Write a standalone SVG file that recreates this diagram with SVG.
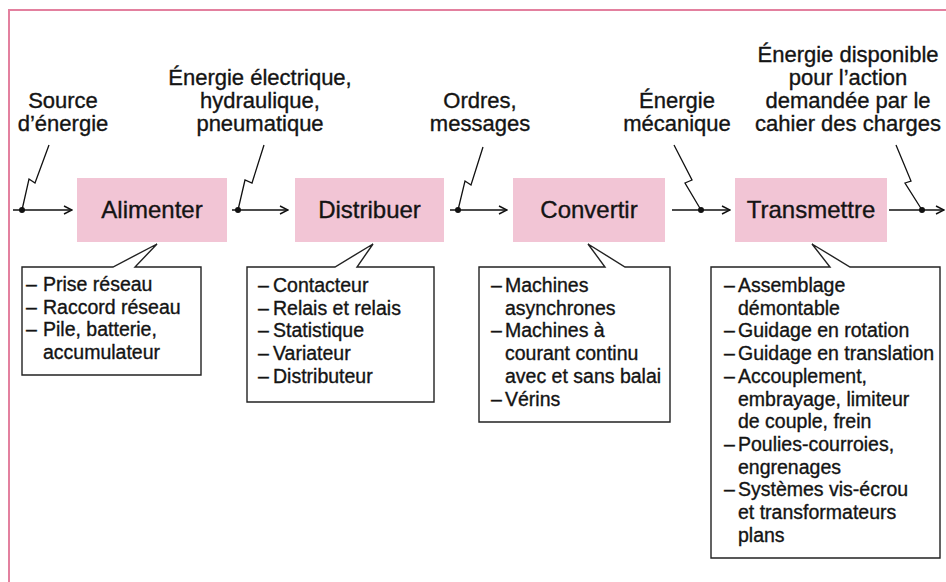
<svg xmlns="http://www.w3.org/2000/svg" width="946" height="582" viewBox="0 0 946 582">
  <defs>
    <marker id="arrow" viewBox="0 0 10 10" refX="9" refY="5" markerWidth="10" markerHeight="10" markerUnits="userSpaceOnUse" orient="auto">
      <path d="M1,1 L9,5 L1,9" fill="none" stroke="#111" stroke-width="1.4"/>
    </marker>
    <style>
      .frame { fill: none; stroke: #e3809f; stroke-width: 2; }
      .block { fill: #f2c5d5; }
      text { font-family: "Liberation Sans", Arial, sans-serif; fill: #141414; stroke: #141414; stroke-width: 0.35; }
      .block-label { font-size: 24px; text-anchor: middle; }
      .flow-label { font-size: 22px; text-anchor: middle; }
      .callout { fill: #fff; stroke: #222; stroke-width: 1.4; stroke-linejoin: miter; }
      .item { font-size: 19.5px; }
      .flow { fill: none; stroke: #111; stroke-width: 1.4; }
      .bolt { fill: none; stroke: #111; stroke-width: 1.3; stroke-linejoin: miter; }
      .dot { fill: #111; }
    </style>
  </defs>

  <rect width="946" height="582" fill="#fff"/>
  <!-- page frame -->
  <path class="frame" d="M9,582 V10 H946"/>

  <!-- flow labels -->
  <g id="label-source">
    <text class="flow-label" x="63" y="108">Source</text>
    <text class="flow-label" x="63" y="131">d’énergie</text>
  </g>
  <g id="label-energie-electrique">
    <text class="flow-label" x="260" y="85">Énergie électrique,</text>
    <text class="flow-label" x="260" y="108">hydraulique,</text>
    <text class="flow-label" x="260" y="131">pneumatique</text>
  </g>
  <g id="label-ordres">
    <text class="flow-label" x="480" y="108">Ordres,</text>
    <text class="flow-label" x="480" y="131">messages</text>
  </g>
  <g id="label-energie-mecanique">
    <text class="flow-label" x="677" y="108">Énergie</text>
    <text class="flow-label" x="677" y="131">mécanique</text>
  </g>
  <g id="label-energie-disponible">
    <text class="flow-label" x="848" y="62">Énergie disponible</text>
    <text class="flow-label" x="848" y="85">pour l’action</text>
    <text class="flow-label" x="848" y="108">demandée par le</text>
    <text class="flow-label" x="848" y="131">cahier des charges</text>
  </g>

  <!-- function blocks -->
  <g id="alimenter">
    <rect class="block" x="77" y="178" width="150" height="64"/>
    <text class="block-label" x="152" y="218">Alimenter</text>
  </g>
  <g id="distribuer">
    <rect class="block" x="295" y="178" width="149" height="64"/>
    <text class="block-label" x="369.5" y="218">Distribuer</text>
  </g>
  <g id="convertir">
    <rect class="block" x="513" y="178" width="152" height="64"/>
    <text class="block-label" x="589" y="218">Convertir</text>
  </g>
  <g id="transmettre">
    <rect class="block" x="735" y="178" width="152" height="64"/>
    <text class="block-label" x="811" y="218">Transmettre</text>
  </g>

  <!-- connectors: flow arrows with lightning leaders -->
  <g id="connectors">
    <line class="flow" x1="13" y1="210" x2="72" y2="210" marker-end="url(#arrow)"/>
    <polyline class="bolt" points="22,210 29,179 35,183 49,145"/>
    <circle class="dot" cx="22" cy="210" r="3"/>

    <line class="flow" x1="232" y1="210" x2="288" y2="210" marker-end="url(#arrow)"/>
    <polyline class="bolt" points="238,210 245,180 252,183 264,145"/>
    <circle class="dot" cx="238" cy="210" r="3"/>

    <line class="flow" x1="450" y1="210" x2="507" y2="210" marker-end="url(#arrow)"/>
    <polyline class="bolt" points="458,210 465,181 471,185 483,147"/>
    <circle class="dot" cx="458" cy="210" r="3"/>

    <line class="flow" x1="672" y1="210" x2="730" y2="210" marker-end="url(#arrow)"/>
    <polyline class="bolt" points="701,210 685,183 692,180 674,145"/>
    <circle class="dot" cx="701" cy="210" r="3"/>

    <line class="flow" x1="889" y1="210" x2="944" y2="210" marker-end="url(#arrow)"/>
    <polyline class="bolt" points="922,210 905,183 911,181 896,145"/>
    <circle class="dot" cx="922" cy="210" r="3"/>
  </g>

  <!-- callouts -->
  <g id="callout-alimenter">
    <path class="callout" d="M22,267 H113 L157,244 L135,267 H201 V375 H22 Z"/>
    <text class="item" x="26" y="291">–</text><text class="item" x="43" y="291">Prise réseau</text>
    <text class="item" x="26" y="313.7">–</text><text class="item" x="43" y="313.7">Raccord réseau</text>
    <text class="item" x="26" y="336.4">–</text><text class="item" x="43" y="336.4">Pile, batterie,</text>
    <text class="item" x="43" y="359.1">accumulateur</text>
  </g>
  <g id="callout-distribuer">
    <path class="callout" d="M247,267 H335 L373,244 L357,267 H434 V402 H247 Z"/>
    <text class="item" x="258" y="292">–</text><text class="item" x="273" y="292">Contacteur</text>
    <text class="item" x="258" y="314.7">–</text><text class="item" x="273" y="314.7">Relais et relais</text>
    <text class="item" x="258" y="337.4">–</text><text class="item" x="273" y="337.4">Statistique</text>
    <text class="item" x="258" y="360.1">–</text><text class="item" x="273" y="360.1">Variateur</text>
    <text class="item" x="258" y="382.8">–</text><text class="item" x="273" y="382.8">Distributeur</text>
  </g>
  <g id="callout-convertir">
    <path class="callout" d="M479,267 H605 L588,244 L625,267 H670 V422 H479 Z"/>
    <text class="item" x="491" y="292">–</text><text class="item" x="505" y="292">Machines</text>
    <text class="item" x="505" y="314.7">asynchrones</text>
    <text class="item" x="491" y="337.4">–</text><text class="item" x="505" y="337.4">Machines à</text>
    <text class="item" x="505" y="360.1">courant continu</text>
    <text class="item" x="505" y="382.8">avec et sans balai</text>
    <text class="item" x="491" y="405.5">–</text><text class="item" x="505" y="405.5">Vérins</text>
  </g>
  <g id="callout-transmettre">
    <path class="callout" d="M711,267 H830 L812,244 L850,267 H940 V558 H711 Z"/>
    <text class="item" x="724" y="292">–</text><text class="item" x="738" y="292">Assemblage</text>
    <text class="item" x="738" y="314.7">démontable</text>
    <text class="item" x="724" y="337.4">–</text><text class="item" x="738" y="337.4">Guidage en rotation</text>
    <text class="item" x="724" y="360.1">–</text><text class="item" x="738" y="360.1">Guidage en translation</text>
    <text class="item" x="724" y="382.8">–</text><text class="item" x="738" y="382.8">Accouplement,</text>
    <text class="item" x="738" y="405.5">embrayage, limiteur</text>
    <text class="item" x="738" y="428.2">de couple, frein</text>
    <text class="item" x="724" y="450.9">–</text><text class="item" x="738" y="450.9">Poulies-courroies,</text>
    <text class="item" x="738" y="473.6">engrenages</text>
    <text class="item" x="724" y="496.3">–</text><text class="item" x="738" y="496.3">Systèmes vis-écrou</text>
    <text class="item" x="738" y="519">et transformateurs</text>
    <text class="item" x="738" y="541.7">plans</text>
  </g>
</svg>
